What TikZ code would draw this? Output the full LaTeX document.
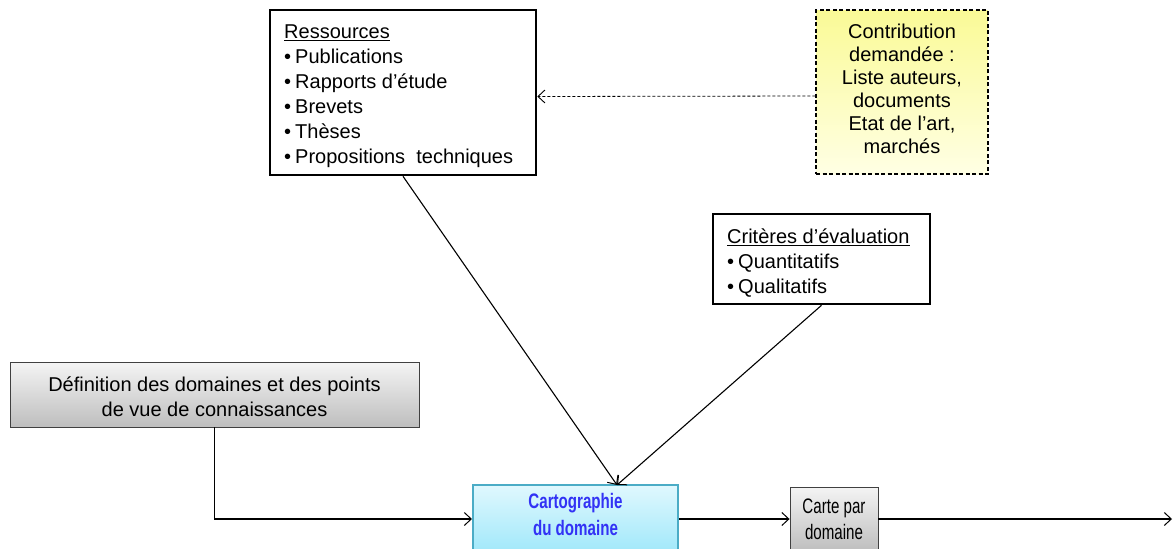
\documentclass[tikz,border=0pt]{standalone}
\usepackage{fontspec}
\setmainfont{Liberation Sans}
\newfontfamily\narrowfont[FakeStretch=0.72]{Liberation Sans}
\usetikzlibrary{arrows.meta}
\definecolor{cartoborder}{RGB}{75,172,198}
\definecolor{cartotop}{RGB}{224,248,254}
\definecolor{cartobot}{RGB}{160,232,250}
\definecolor{cartotext}{RGB}{50,50,245}
\definecolor{greytop}{RGB}{244,244,244}
\definecolor{greybot}{RGB}{190,190,190}
\definecolor{yellowtop}{RGB}{250,250,150}
\definecolor{yellowbot}{RGB}{255,255,228}
\tikzset{
  txt/.style={font=\fontsize{20}{25}\selectfont},
  listbox/.style={draw=black, line width=2.6pt, inner sep=0pt},
  listtext/.style={txt, align=left, inner sep=0pt},
  greybox/.style={draw=black!75, line width=0.9pt, top color=greytop, bottom color=greybot, txt, align=center, inner sep=0pt},
  cartobox/.style={draw=cartoborder, line width=2pt, top color=cartotop, bottom color=cartobot, inner sep=0pt},
  cartolbl/.style={align=center, inner sep=0pt, font=\narrowfont\bfseries\fontsize{21}{27}\selectfont, text=cartotext},
  notebox/.style={draw=black, dash pattern=on 4pt off 2.5pt, line width=1.1pt, top color=yellowtop, bottom color=yellowbot, inner sep=0pt},
  notetext/.style={align=center, inner sep=0pt, font=\fontsize{20}{23}\selectfont},
  conn/.style={draw=black, line width=1.1pt, -{Straight Barb[length=7pt,width=13pt,line width=1pt]}},
  dconn/.style={draw=black, line width=0.8pt, dash pattern=on 3pt off 2pt, -{Straight Barb[length=7pt,width=13pt,line width=0.9pt]}},
}
\newcommand{\bul}{\textbullet\kern4pt}
\begin{document}
\begin{tikzpicture}[x=1pt,y=-1pt]
\useasboundingbox (0,0) rectangle (1173,549);

\node[listbox, minimum width=266pt, minimum height=165pt] (res) at (403,92.5) {};
\node[listtext, anchor=west] (restext) at (284,96)
  {\underline{Ressources}\\ \bul Publications\\ \bul Rapports d’étude\\ \bul Brevets\\ \bul Thèses\\ \bul Propositions\ \ techniques};

\node[notebox, minimum width=172pt, minimum height=164pt] (contrib) at (902,92) {};
\node[notetext] (contribtext) at (902,89)
  {Contribution\\ demandée :\\ Liste auteurs,\\ documents\\ Etat de l’art,\\ marchés};

\node[listbox, minimum width=217pt, minimum height=90pt] (crit) at (821.5,259) {};
\node[listtext, anchor=west] (crittext) at (727,263.5)
  {\underline{Critères d’évaluation}\\ \bul Quantitatifs\\ \bul Qualitatifs};

\node[greybox, minimum width=409pt, minimum height=65pt] (def) at (214.5,394.5) {};
\node[listtext, align=center] (deftext) at (214.5,396.5)
  {Définition des domaines et des points\\ de vue de connaissances};

\node[cartobox, minimum width=205pt, minimum height=68pt] (carto) at (575.5,519) {};
\node[cartolbl] (cartolabel) at (575.5,514) {Cartographie\\ du domaine};

\node[greybox, minimum width=88pt, minimum height=64pt, font=\narrowfont\fontsize{21}{26}\selectfont] (carte) at (834,519)
  {Carte par\\ domaine};

\coordinate (cin) at (617,485);
\coordinate (outend) at (1172,519);

\draw[dconn] ([yshift=-4pt]contrib.west) -- ([yshift=-4pt]res.east);
\draw[conn] (res.south) -- (cin);
\draw[conn] (crit.south) -- (cin);
\draw[conn] (def.south) |- (carto.west);
\draw[conn] (carto.east) -- (carte.west);
\draw[conn] (carte.east) -- (outend);
\end{tikzpicture}
\end{document}
